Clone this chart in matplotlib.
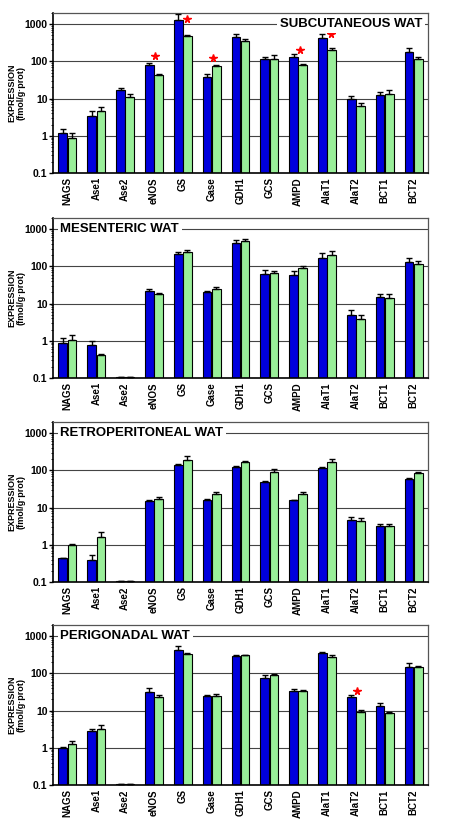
import matplotlib
matplotlib.use('Agg')
import matplotlib.pyplot as plt
import numpy as np
import matplotlib.ticker as ticker

plt.rcParams['font.family'] = ['Liberation Sans', 'DejaVu Sans']
plt.rcParams['font.weight'] = 'bold'

genes = ['NAGS', 'Ase1', 'Ase2', 'eNOS', 'GS', 'Gase', 'GDH1', 'GCS', 'AMPD',
         'AlaT1', 'AlaT2', 'BCT1', 'BCT2']

# subcutaneous
sub_blue = [1.17, 3.5, 17.5, 78, 1330, 39, 450, 118, 133, 430, 10, 12.8, 178]
sub_blue_sem = [0.33, 1.1, 2.1, 10, 520, 6, 90, 15, 22, 110, 2, 2, 52]
sub_green = [0.9, 4.5, 11, 42, 478, 77, 360, 113, 78, 200, 6.5, 13, 118]
sub_green_sem = [0.3, 1.5, 2.6, 3, 42, 5, 30, 37, 5, 30, 1.1, 3.7, 17]

# mesenteric
mes_blue = [0.88, 0.76, 0.105, 21.5, 211, 20.2, 437, 63, 60, 164, 4.8, 15.1, 128]
mes_blue_sem = [0.3, 0.22, 0, 2.9, 29, 1.3, 68, 15, 16, 60, 1.8, 3.5, 40]
mes_green = [1.06, 0.42, 0.105, 18.6, 240, 24.4, 484, 66, 92, 198, 3.9, 14.2, 118]
mes_green_sem = [0.36, 0.03, 0, 0.8, 43, 3.6, 66, 9, 8, 56, 1.0, 3.7, 24]

# retroperitoneal
ret_blue = [0.44, 0.39, 0.105, 15.5, 142, 16.4, 121, 49, 15.8, 116, 4.7, 3.3, 58]
ret_blue_sem = [0.01, 0.15, 0, 1.0, 6, 0.7, 13, 3, 0.7, 7, 0.8, 0.3, 4]
ret_green = [1.0, 1.65, 0.105, 17.1, 186, 23.9, 171, 88, 23.9, 164, 4.4, 3.3, 85]
ret_green_sem = [0.04, 0.55, 0, 1.9, 53, 2.6, 11, 21, 2.6, 38, 0.8, 0.3, 5]

# perigonadal
per_blue = [1.0, 2.76, 0.105, 32.6, 437, 24.9, 288, 76, 34, 347, 23, 13.1, 148]
per_blue_sem = [0.06, 0.54, 0, 6.8, 99, 2.1, 19, 12, 3.6, 39, 4, 3.0, 42]
per_green = [1.23, 3.27, 0.105, 23.9, 327, 24.4, 307, 92, 34, 276, 9.4, 8.8, 148]
per_green_sem = [0.32, 0.73, 0, 2.1, 35, 3.6, 6, 6, 2, 42, 1.2, 0.4, 6]

# significance stars: gene, y
sub_stars = [('eNOS', 139), ('GS', 1400), ('Gase', 120), ('AMPD', 200), ('AlaT1', 530)]
per_stars = [('AlaT2', 33)]

panels = [
    ('SUBCUTANEOUS WAT', sub_blue, sub_blue_sem, sub_green, sub_green_sem, sub_stars, 'right'),
    ('MESENTERIC WAT', mes_blue, mes_blue_sem, mes_green, mes_green_sem, [], 'left'),
    ('RETROPERITONEAL WAT', ret_blue, ret_blue_sem, ret_green, ret_green_sem, [], 'left'),
    ('PERIGONADAL WAT', per_blue, per_blue_sem, per_green, per_green_sem, per_stars, 'left'),
]

BLUE = '#0000dd'
GREEN = '#99ee99'

fig = plt.figure(figsize=(4.5, 8.25), dpi=100)
tops = [13, 218, 422, 625]
x = np.arange(len(genes))
w = 0.3

for (title, b, bs, g, gs, stars, side), top in zip(panels, tops):
    ax = fig.add_axes([53 / 450, 1 - (top + 160) / 825, 375 / 450, 160 / 825])
    ax.set_yscale('log')

    for yv in [1, 10, 100, 1000]:
        ax.axhline(yv, color='#444444', lw=0.8, zorder=0)

    ax.bar(x - 0.16, b, w, color=BLUE, edgecolor='k', lw=0.8, zorder=2)
    ax.bar(x + 0.16, g, w, color=GREEN, edgecolor='k', lw=0.8, zorder=2)
    ax.errorbar(x - 0.16, b, yerr=[np.zeros(len(b)), bs], fmt='none', ecolor='k',
                elinewidth=1, capsize=2, capthick=1, zorder=3)
    ax.errorbar(x + 0.16, g, yerr=[np.zeros(len(g)), gs], fmt='none', ecolor='k',
                elinewidth=1, capsize=2, capthick=1, zorder=3)

    for name, yv in stars:
        i = genes.index(name)
        off = 0.15 if name in ('GS', 'AlaT1') else 0.05
        ax.plot(i + off, yv, marker='*', color='red', ms=5.5, mec='red', zorder=4)

    ax.set_ylim(0.1, 2000)
    ax.set_xlim(-0.5, len(genes) - 0.5)

    if side == 'right':
        ax.text(0.985, 1000, title, transform=ax.get_yaxis_transform(), ha='right',
                va='center', fontsize=9.5, fontweight='bold',
                bbox=dict(facecolor='white', edgecolor='none', pad=2), zorder=5)
    else:
        ax.text(0.02, 1000, title, transform=ax.get_yaxis_transform(), ha='left',
                va='center', fontsize=9.5, fontweight='bold',
                bbox=dict(facecolor='white', edgecolor='none', pad=2), zorder=5)

    ax.set_xticks(x)
    ax.set_xticklabels(genes, rotation=90, fontsize=7, fontweight='bold')
    ax.tick_params(axis='x', length=0, pad=3)
    ax.yaxis.set_major_locator(ticker.FixedLocator([0.1, 1, 10, 100, 1000]))
    ax.yaxis.set_major_formatter(ticker.FixedFormatter(['0.1', '1', '10', '100', '1000']))
    ax.yaxis.set_minor_locator(ticker.LogLocator(base=10, subs=np.arange(2, 10)))
    ax.yaxis.set_minor_formatter(ticker.NullFormatter())
    ax.tick_params(axis='y', which='major', length=3, width=1, labelsize=7.5, pad=1)
    ax.tick_params(axis='y', which='minor', length=1.5, width=0.6)
    for lab in ax.get_yticklabels():
        lab.set_fontweight('bold')

    ax.spines['left'].set_linewidth(1.2)
    ax.spines['bottom'].set_linewidth(1.2)
    for s in ['top', 'right']:
        ax.spines[s].set_color('#555555')
        ax.spines[s].set_linewidth(0.9)

    ax.set_ylabel('EXPRESSION\n(fmol/g·prot)', fontsize=6.5, fontweight='bold',
                  linespacing=1.1)
    ax.yaxis.set_label_coords(-0.072, 0.5)

plt.savefig('out.png', dpi=100)
